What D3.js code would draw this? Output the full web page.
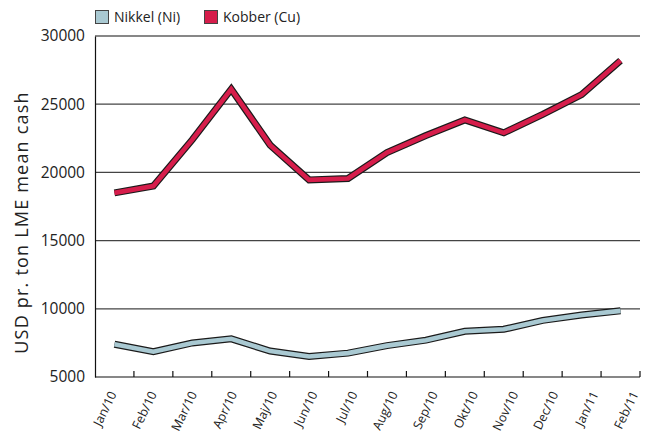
<!DOCTYPE html>
<html>
<head>
<meta charset="utf-8">
<script src="https://cdn.jsdelivr.net/npm/d3@7"></script>
<style>
  body { margin: 0; background: #fff; }
  svg text { font-family: "Open Sans", "Noto Sans", sans-serif; fill: #222; }
</style>
</head>
<body>
<div id="chart"></div>
<script>
const months = ['Jan/10', 'Feb/10', 'Mar/10', 'Apr/10', 'Maj/10', 'Jun/10', 'Jul/10',
  'Aug/10', 'Sep/10', 'Okt/10', 'Nov/10', 'Dec/10', 'Jan/11', 'Feb/11'];
const nickel = [7400, 6850, 7500, 7800, 6900, 6500, 6750, 7300, 7700, 8350, 8500, 9150, 9550, 9850];
const copper = [18500, 19000, 22400, 26100, 22000, 19450, 19550, 21450, 22700, 23850, 22900, 24250, 25700, 28200];
const yTicks = [5000, 10000, 15000, 20000, 25000, 30000];

const width = 649, height = 434;
const margin = { top: 36, right: 9, bottom: 57, left: 95 };
const innerW = width - margin.left - margin.right;
const innerH = height - margin.top - margin.bottom;

const svg = d3.select('#chart').append('svg')
  .attr('width', width)
  .attr('height', height);

const g = svg.append('g')
  .attr('transform', `translate(${margin.left},${margin.top})`);

const x = d3.scaleBand().domain(months).range([0, innerW]);
const y = d3.scaleLinear().domain([5000, 30000]).range([innerH, 0]);
// category labels are spread a little wider than the bands, like the original
const xLabel = d3.scalePoint().domain(months).range([22, innerW - 1]);

// gridlines
g.selectAll('.grid')
  .data(yTicks.slice(1))
  .enter()
  .append('line')
  .attr('x1', 0)
  .attr('x2', innerW)
  .attr('y1', d => y(d))
  .attr('y2', d => y(d))
  .attr('stroke', d => d === 30000 ? '#111' : '#444')
  .attr('stroke-width', 1.2);

// y axis
const yAxis = g.append('g')
  .call(d3.axisLeft(y).tickValues(yTicks).tickSize(0).tickPadding(10).tickFormat(d3.format('d')));
yAxis.select('.domain').attr('stroke', '#111').attr('stroke-width', 1.2);
yAxis.selectAll('text').style('font-size', '15.5px').attr('fill', '#222');

// x axis, ticks at the band edges
const xAxis = g.append('g').attr('transform', `translate(0,${innerH})`);
xAxis.append('line')
  .attr('x1', 0).attr('x2', innerW)
  .attr('stroke', '#111').attr('stroke-width', 1.2);
xAxis.selectAll('.tick')
  .data(months)
  .enter()
  .append('line')
  .attr('x1', d => x(d) + x.bandwidth())
  .attr('x2', d => x(d) + x.bandwidth())
  .attr('y1', 0).attr('y2', -6)
  .attr('stroke', '#111').attr('stroke-width', 1.2);
xAxis.selectAll('.lbl')
  .data(months)
  .enter()
  .append('text')
  .attr('transform', d => `translate(${xLabel(d)},17) rotate(-64)`)
  .attr('text-anchor', 'end')
  .style('font-size', '12.5px')
  .text(d => d);

// y title
svg.append('text')
  .attr('transform', `translate(28,${margin.top + innerH / 2 + 16}) rotate(-90)`)
  .attr('text-anchor', 'middle')
  .style('font-size', '18px')
  .style('letter-spacing', '1.2px')
  .text('USD pr. ton LME mean cash');

// lines: dark outline then coloured core
const line = d3.line()
  .x((d, i) => x(months[i]) + x.bandwidth() / 2)
  .y(d => y(d));

const series = [
  { name: 'Nikkel (Ni)', values: nickel, color: '#a9c9d2' },
  { name: 'Kobber (Cu)', values: copper, color: '#d61d4b' }
];

series.forEach(s => {
  g.append('path')
    .attr('d', line(s.values))
    .attr('fill', 'none')
    .attr('stroke', '#1a1a1a')
    .attr('stroke-width', 7)
    .attr('stroke-linejoin', 'miter');
  g.append('path')
    .attr('d', line(s.values))
    .attr('fill', 'none')
    .attr('stroke', s.color)
    .attr('stroke-width', 4.6)
    .attr('stroke-linejoin', 'miter');
});

// legend
const legend = svg.append('g').attr('transform', 'translate(95,10)');
const legendX = [0, 109];
const items = legend.selectAll('.legend-item')
  .data(series)
  .enter()
  .append('g')
  .attr('transform', (d, i) => `translate(${legendX[i]},0)`);
items.append('rect')
  .attr('x', 0.5).attr('y', 0.5)
  .attr('width', 13).attr('height', 13)
  .attr('fill', d => d.color)
  .attr('stroke', '#444');
items.append('text')
  .attr('x', 19)
  .attr('y', 12)
  .style('font-size', '14px')
  .text(d => d.name);
</script>
</body>
</html>
